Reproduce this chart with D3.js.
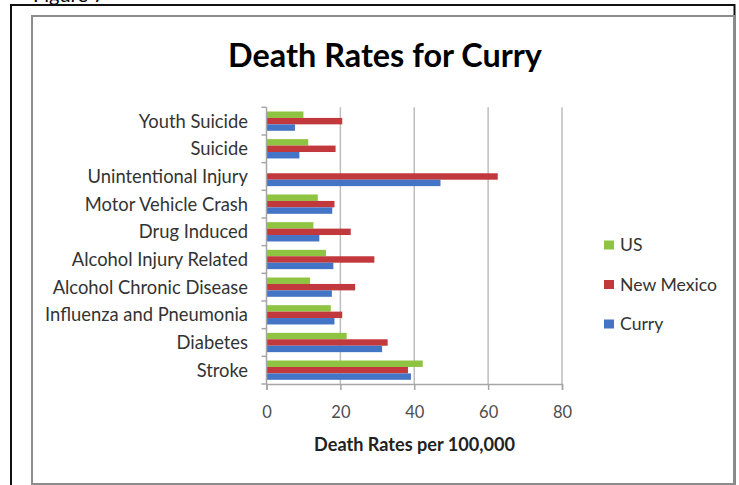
<!DOCTYPE html>
<html>
<head>
<meta charset="utf-8">
<script src="https://cdn.jsdelivr.net/npm/d3@7"></script>
<style>
  html, body { margin: 0; padding: 0; background: #fff; }
  svg { display: block; }
</style>
</head>
<body>
<svg id="chart" width="739" height="485"></svg>
<script>
// Death rates per 100,000, listed top to bottom as shown on the chart
const categories = [
  "Youth Suicide", "Suicide", "Unintentional Injury", "Motor Vehicle Crash",
  "Drug Induced", "Alcohol Injury Related", "Alcohol Chronic Disease",
  "Influenza and Pneumonia", "Diabetes", "Stroke"
];
const seriesNames = ["US", "New Mexico", "Curry"];
const usRates    = [10.0, 11.3, null, 13.9, 12.7, 16.1, 11.8, 17.4, 21.7, 42.3];
const nmRates    = [20.5, 18.7, 62.6, 18.4, 22.8, 29.2, 24.0, 20.5, 32.8, 38.3];
const curryRates = [7.7, 8.9, 47.1, 17.8, 14.3, 18.1, 17.7, 18.4, 31.3, 39.1];
const xTicks = [0, 20, 40, 60, 80];

const seriesValues = { "US": usRates, "New Mexico": nmRates, "Curry": curryRates };
const colors = { "US": "#8fc442", "New Mexico": "#c1393d", "Curry": "#4474c6" };

const svg = d3.select("#chart");
const FONT = "Lato, 'Open Sans', sans-serif";

// fit a text element's font size so it spans a given width
function fitWidth(sel, width, base) {
  sel.attr("font-size", base);
  const w = sel.node().getComputedTextLength();
  sel.attr("font-size", base * width / w);
}

// caption above the frame (partly cut off by the page edge)
svg.append("text")
  .attr("x", 33).attr("y", 2)
  .attr("font-family", FONT).attr("font-size", 20).attr("fill", "#000")
  .text("Figure 7");

// outer document frame
svg.append("path")
  .attr("d", "M11,490 V5 H734.5 V490")
  .attr("fill", "none").attr("stroke", "#111").attr("stroke-width", 2);

// chart area border
svg.append("rect")
  .attr("x", 32).attr("y", 16).attr("width", 702).attr("height", 468)
  .attr("fill", "#fff").attr("stroke", "#8c8c8c").attr("stroke-width", 2);

// title
const title = svg.append("text")
  .attr("x", 385).attr("y", 67).attr("text-anchor", "middle")
  .attr("font-family", FONT).attr("font-weight", 700).attr("fill", "#000")
  .text("Death Rates for Curry");
fitWidth(title, 314, 30);

const plotTop = 107.3, plotBottom = 384, plotLeft = 266.5, plotRight = 562;

const x = d3.scaleLinear().domain([0, 80]).range([plotLeft, plotRight]);
const y = d3.scaleBand().domain(categories).range([plotTop, plotBottom]).padding(0);
const ySeries = d3.scaleBand().domain(seriesNames).range([0, y.bandwidth()])
  .paddingInner(0).paddingOuter(0.65);

// vertical gridlines
svg.append("g").selectAll("line")
  .data(xTicks.filter(t => t > 0))
  .join("line")
  .attr("x1", d => x(d)).attr("x2", d => x(d))
  .attr("y1", plotTop).attr("y2", plotBottom)
  .attr("stroke", "#bdbdbd").attr("stroke-width", 1.5);

// bars
const rows = categories.map((c, i) => ({
  category: c,
  values: seriesNames.map(s => ({ series: s, value: seriesValues[s][i] }))
}));

svg.append("g").selectAll("g")
  .data(rows)
  .join("g")
  .attr("transform", d => `translate(0,${y(d.category)})`)
  .selectAll("rect")
  .data(d => d.values.filter(v => v.value != null))
  .join("rect")
  .attr("x", x(0))
  .attr("y", d => ySeries(d.series))
  .attr("width", d => x(d.value) - x(0))
  .attr("height", ySeries.bandwidth())
  .attr("fill", d => colors[d.series]);

// x axis
const xAxis = svg.append("g")
  .attr("transform", `translate(0,${plotBottom})`)
  .call(d3.axisBottom(x).tickValues(xTicks).tickSize(6).tickPadding(16));
xAxis.select(".domain").attr("stroke", "#a6a6a6").attr("stroke-width", 1.5);
xAxis.selectAll(".tick line").attr("stroke", "#a6a6a6").attr("stroke-width", 1.5);
xAxis.selectAll(".tick text")
  .attr("font-family", FONT).attr("font-size", 16.5).attr("fill", "#4d4d4d");

// y axis (ticks sit on category boundaries)
const yAxisG = svg.append("g");
yAxisG.append("line")
  .attr("x1", plotLeft).attr("x2", plotLeft)
  .attr("y1", plotTop).attr("y2", plotBottom)
  .attr("stroke", "#a6a6a6").attr("stroke-width", 1.5);
const boundaries = categories.map(c => y(c)).concat([plotBottom]);
yAxisG.selectAll("line.tick")
  .data(boundaries)
  .join("line").attr("class", "tick")
  .attr("x1", plotLeft - 5).attr("x2", plotLeft)
  .attr("y1", d => d).attr("y2", d => d)
  .attr("stroke", "#a6a6a6").attr("stroke-width", 1.5);

const catLabels = yAxisG.selectAll("text")
  .data(categories)
  .join("text")
  .attr("x", 248)
  .attr("y", d => y(d) + y.bandwidth() / 2)
  .attr("dy", "0.35em")
  .attr("text-anchor", "end")
  .attr("font-family", FONT).attr("fill", "#333")
  .text(d => d);
// size labels so the longest one keeps its width
{
  const longest = catLabels.filter(d => d === "Influenza and Pneumonia");
  longest.attr("font-size", 16);
  const w = longest.node().getComputedTextLength();
  catLabels.attr("font-size", 16 * 203 / w);
}

// x axis title
const xTitle = svg.append("text")
  .attr("x", 414.5).attr("y", 451).attr("text-anchor", "middle")
  .attr("font-family", FONT).attr("font-weight", 700).attr("fill", "#222")
  .text("Death Rates per 100,000");
fitWidth(xTitle, 201, 14);

// legend
const legend = svg.append("g");
const legendY = d3.scalePoint().domain(seriesNames).range([245, 324]);
const items = legend.selectAll("g")
  .data(seriesNames)
  .join("g")
  .attr("transform", d => `translate(604,${legendY(d)})`);
items.append("rect")
  .attr("x", 0).attr("y", -4.5).attr("width", 10).attr("height", 9)
  .attr("fill", d => colors[d]);
const legendText = items.append("text")
  .attr("x", 16).attr("dy", "0.35em")
  .attr("font-family", FONT).attr("fill", "#333")
  .text(d => d);
{
  const nm = legendText.filter(d => d === "New Mexico");
  nm.attr("font-size", 15);
  const w = nm.node().getComputedTextLength();
  legendText.attr("font-size", 15 * 97 / w);
}
</script>
</body>
</html>
